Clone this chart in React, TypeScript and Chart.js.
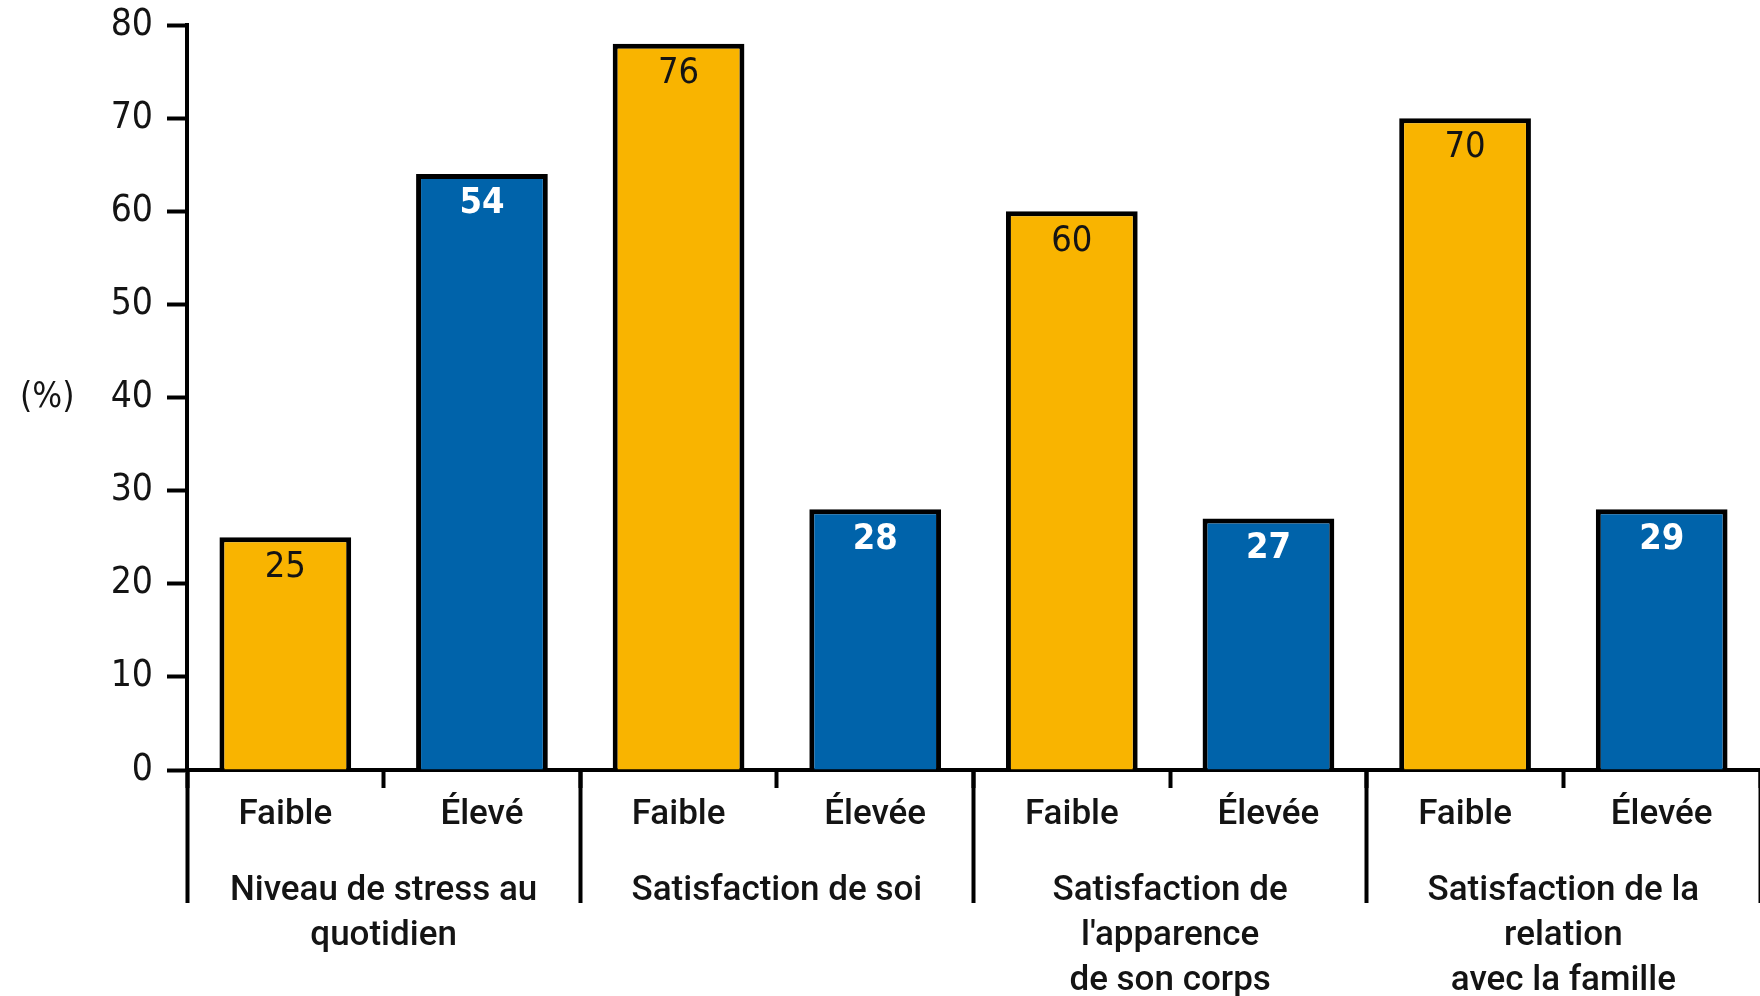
import React, { useEffect, useRef } from 'react';
import { Chart, registerables } from 'chart.js';

Chart.register(...registerables);

// ---- data ----
const categories = ['Faible', 'Élevé', 'Faible', 'Élevée', 'Faible', 'Élevée', 'Faible', 'Élevée'];
const groupLabels = [
  ['Niveau de stress au', 'quotidien'],
  ['Satisfaction de soi'],
  ['Satisfaction de', "l'apparence", 'de son corps'],
  ['Satisfaction de la', 'relation', 'avec la famille'],
];
// bar heights as drawn in the picture
const barValues = [25, 64, 78, 28, 60, 27, 70, 28];
// numbers printed inside the bars
const valueLabels = ['25', '54', '76', '28', '60', '27', '70', '29'];
const levels = ['low', 'high', 'low', 'high', 'low', 'high', 'low', 'high'];
const yMin = 0;
const yMax = 80;
const yStep = 10;
const yUnit = '(%)';

// ---- style ----
const ORANGE = '#F9B400';
const BLUE = '#0063AA';
const INK = '#141414';
const NUM_FONT = "'Liberation Sans Narrow', 'DejaVu Sans Condensed', sans-serif";
const TXT_FONT = "Roboto, 'Noto Sans', sans-serif";

const valueLabelPlugin = {
  id: 'valueLabels',
  afterDatasetsDraw(chart: any) {
    const meta = chart.getDatasetMeta(0);
    const ctx = chart.ctx;
    ctx.save();
    ctx.textAlign = 'center';
    ctx.textBaseline = 'middle';
    meta.data.forEach((bar: any, i: number) => {
      const high = levels[i] === 'high';
      ctx.font = `${high ? 'bold ' : ''}36px ${NUM_FONT}`;
      ctx.fillStyle = high ? '#ffffff' : INK;
      ctx.fillText(valueLabels[i], bar.x, bar.y + 30);
    });
    ctx.restore();
  },
};

const unitPlugin = {
  id: 'unitLabel',
  afterDraw(chart: any) {
    const y = chart.scales.y;
    const ctx = chart.ctx;
    ctx.save();
    ctx.font = `35px ${NUM_FONT}`;
    ctx.fillStyle = INK;
    ctx.textAlign = 'left';
    ctx.textBaseline = 'middle';
    ctx.fillText(yUnit, 20, y.getPixelForValue((yMin + yMax) / 2));
    ctx.restore();
  },
};

export default function App() {
  const ref = useRef<HTMLCanvasElement | null>(null);

  useEffect(() => {
    if (!ref.current) return;
    const n = categories.length;
    const g = groupLabels.length;
    const chart = new Chart(ref.current, {
      type: 'bar',
      data: {
        labels: categories,
        datasets: [
          {
            data: barValues,
            backgroundColor: levels.map((l) => (l === 'high' ? BLUE : ORANGE)),
            borderColor: '#000',
            borderWidth: 5,
            borderSkipped: 'bottom',
            categoryPercentage: 1,
            barPercentage: 0.67,
          },
        ],
      },
      options: {
        animation: false,
        responsive: true,
        maintainAspectRatio: false,
        layout: { padding: { top: 25, bottom: 226, left: 0, right: -4 } },
        plugins: { legend: { display: false }, tooltip: { enabled: false } },
        scales: {
          y: {
            type: 'linear',
            position: 'left',
            min: yMin,
            max: yMax,
            ticks: {
              stepSize: yStep,
              color: INK,
              padding: 14,
              font: { family: NUM_FONT, size: 37 },
            },
            grid: {
              drawOnChartArea: false,
              drawTicks: true,
              tickLength: 20,
              tickWidth: 4,
              tickColor: '#000',
            },
            border: { display: true, color: '#000', width: 4 },
            afterFit: (scale: any) => {
              scale.width = 187;
              scale.paddingTop = 0;
              scale.paddingBottom = 0;
            },
          },
          x: {
            type: 'category',
            axis: 'x',
            position: { y: 0 },
            offset: true,
            ticks: {
              color: INK,
              padding: 8,
              maxRotation: 0,
              autoSkip: false,
              font: { family: TXT_FONT, size: 35, weight: '500', lineHeight: 1.2 },
            },
            grid: {
              offset: true,
              drawOnChartArea: false,
              drawTicks: true,
              tickLength: 16,
              tickWidth: 4,
              tickColor: (c: any) => (c.index >= n ? 'rgba(0,0,0,0)' : '#000'),
            },
            border: { display: true, color: '#000', width: 4 },
          },
          xg: {
            type: 'category',
            axis: 'x',
            labels: groupLabels as any,
            position: { y: 0 },
            offset: true,
            ticks: {
              color: INK,
              padding: -34,
              maxRotation: 0,
              autoSkip: false,
              font: { family: TXT_FONT, size: 35, weight: '500', lineHeight: 45 / 35 },
            },
            grid: {
              offset: true,
              drawOnChartArea: false,
              drawTicks: true,
              tickLength: 133,
              tickWidth: 4,
              tickColor: (c: any) => (c.index >= g ? 'rgba(0,0,0,0)' : '#000'),
            },
            border: { display: false },
          },
        } as any,
      },
      plugins: [valueLabelPlugin, unitPlugin],
    });
    return () => chart.destroy();
  }, []);

  return (
    <div style={{ position: 'fixed', left: 0, top: 0, width: 1760, height: 996, background: '#fff' }}>
      <canvas ref={ref} />
    </div>
  );
}
